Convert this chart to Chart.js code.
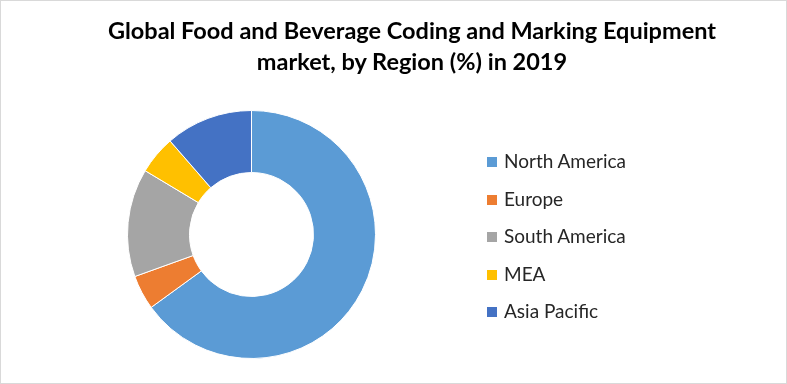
<!DOCTYPE html>
<html>
<head>
<meta charset="utf-8">
<script src="https://cdn.jsdelivr.net/npm/chart.js@4.4.1/dist/chart.umd.min.js"></script>
<style>
  html, body { margin: 0; padding: 0; background: #ffffff; }
  #wrap {
    position: relative; width: 787px; height: 384px;
    box-sizing: border-box; border: 1px solid #d9d9d9; overflow: hidden;
  }
  #regionChart { position: absolute; left: 0; top: 0; }
  #title {
    position: absolute; left: 61px; width: 700px; top: 14px;
    text-align: center; font-family: Lato, sans-serif; font-weight: bold;
    font-size: 23.5px; line-height: 31px; color: #000;
  }
  #legend { position: absolute; left: 486px; top: 0; }
  .lg-item {
    position: absolute; left: 0; white-space: nowrap;
    font-family: Lato, sans-serif; font-size: 19px; color: #262626;
    line-height: 20px;
  }
  .lg-box { display: inline-block; width: 10px; height: 10px; margin-right: 7px; vertical-align: 1px; }
</style>
</head>
<body>
<div id="wrap">
  <canvas id="regionChart" width="787" height="384"></canvas>
  <div id="title">Global Food and Beverage Coding and Marking Equipment<br>market, by Region (%) in 2019</div>
  <div id="legend"></div>
</div>
<script>
//  Data (share of market, %)
const regions      = ['North America', 'Europe', 'South America', 'MEA', 'Asia Pacific'];
const regionShares = [65.0, 4.5, 14.1, 5.0, 11.4];
const regionColors = ['#5b9bd5', '#ed7d31', '#a5a5a5', '#ffc000', '#4472c4'];

//  Legend (HTML, built from the same arrays)
function renderLegend() {
  const box = document.getElementById('legend');
  box.innerHTML = regions.map((r, i) => `
    <div class="lg-item" style="top:${150 + i * 37.5}px">
      <span class="lg-box" style="background:${regionColors[i]}"></span>${r}
    </div>`).join('');
}

//  Donut
function initDonut() {
  const ctx = document.getElementById('regionChart');
  new Chart(ctx, {
    type: 'doughnut',
    data: {
      labels: regions,
      datasets: [{
        data:            regionShares,
        backgroundColor: regionColors,
        borderColor:     '#ffffff',
        borderWidth:     1,
      }]
    },
    options: {
      responsive: false,
      animation: false,
      cutout: '50%',
      layout: { padding: { left: 126, right: 412, top: 109, bottom: 26 } },
      plugins: {
        legend:  { display: false },
        tooltip: { enabled: false },
      }
    }
  });
}

document.addEventListener('DOMContentLoaded', () => {
  renderLegend();
  initDonut();
});
</script>
</body>
</html>
